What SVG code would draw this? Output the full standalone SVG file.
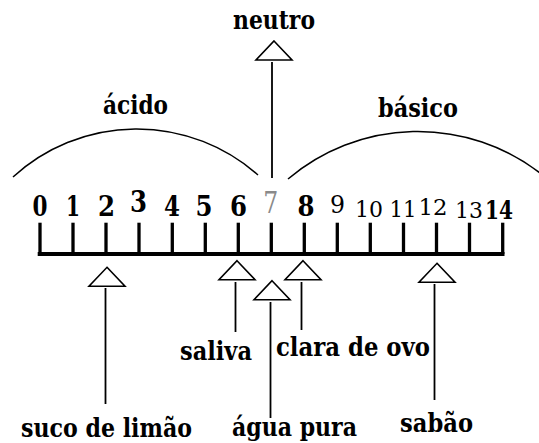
<svg xmlns="http://www.w3.org/2000/svg" width="539" height="443" viewBox="0 0 539 443" font-family="'DejaVu Serif', serif">
<style>
text{font-family:'DejaVu Serif',serif}
.lbl{font-weight:bold;font-size:26px;fill:#000}
.num{font-weight:bold;font-size:27px;fill:#000;text-anchor:middle}
.thin{font-weight:normal}
.ln{stroke:#000;stroke-width:1.8;fill:none}
.tri{stroke:#000;stroke-width:1.6;fill:#fff;stroke-linejoin:miter}
.arc{stroke:#000;stroke-width:1.5;fill:none}
.tick{stroke:#000;stroke-width:3.3}
</style>
<defs>
<path id="tri" class="tri" d="M0,0 L18,19 L-18,19 Z"/>
</defs>
<rect width="539" height="443" fill="#fff"/>

<g id="arcs">
<path class="arc" d="M13,177 A183,183 0 0 1 258,175"/>
<path class="arc" d="M288,179 A200.6,200.6 0 0 1 540,173"/>
</g>

<g id="scale">
<line x1="37.7" y1="254" x2="504.5" y2="254" stroke="#000" stroke-width="4.2"/>
<line class="tick" x1="40" y1="222.7" x2="40" y2="254"/>
<line class="tick" x1="73" y1="222.7" x2="73" y2="254"/>
<line class="tick" x1="106" y1="222.7" x2="106" y2="254"/>
<line class="tick" x1="139" y1="222.7" x2="139" y2="254"/>
<line class="tick" x1="172.3" y1="222.7" x2="172.3" y2="254"/>
<line class="tick" x1="205.3" y1="222.7" x2="205.3" y2="254"/>
<line class="tick" x1="238.3" y1="222.7" x2="238.3" y2="254"/>
<line class="tick" x1="271.3" y1="222.7" x2="271.3" y2="254"/>
<line class="tick" x1="304.3" y1="222.7" x2="304.3" y2="254"/>
<line class="tick" x1="337.3" y1="222.7" x2="337.3" y2="254"/>
<line class="tick" x1="370.3" y1="222.7" x2="370.3" y2="254"/>
<line class="tick" x1="403.5" y1="222.7" x2="403.5" y2="254"/>
<line class="tick" x1="436.5" y1="222.7" x2="436.5" y2="254"/>
<line class="tick" x1="469.5" y1="222.7" x2="469.5" y2="254"/>
<line class="tick" x1="502.7" y1="222.7" x2="502.7" y2="254"/>
<text class="num" x="40" y="215.5" textLength="15" lengthAdjust="spacingAndGlyphs">0</text>
<text class="num" x="73" y="215.5" textLength="14" lengthAdjust="spacingAndGlyphs">1</text>
<text class="num" x="106.5" y="215.5" textLength="17" lengthAdjust="spacingAndGlyphs">2</text>
<text class="num" x="138.5" y="212" style="font-size:30px" textLength="17" lengthAdjust="spacingAndGlyphs">3</text>
<text class="num" x="172" y="215.5" textLength="16" lengthAdjust="spacingAndGlyphs">4</text>
<text class="num" x="204" y="215.5" textLength="17" lengthAdjust="spacingAndGlyphs">5</text>
<text class="num" x="238.5" y="215.5" textLength="17" lengthAdjust="spacingAndGlyphs">6</text>
<text class="num thin" x="270.7" y="212.5" style="fill:#8a8a8a;font-size:30px" textLength="15" lengthAdjust="spacingAndGlyphs">7</text>
<text class="num" x="306" y="215.5" textLength="17" lengthAdjust="spacingAndGlyphs">8</text>
<text class="num thin" x="337.5" y="212.5" style="font-size:25px" textLength="15" lengthAdjust="spacingAndGlyphs">9</text>
<text class="num thin" x="369" y="216.5" style="font-size:22px" textLength="28" lengthAdjust="spacingAndGlyphs">10</text>
<text class="num thin" x="403" y="216.5" style="font-size:22px" textLength="27" lengthAdjust="spacingAndGlyphs">11</text>
<text class="num thin" x="433" y="215" style="font-size:23px" textLength="29" lengthAdjust="spacingAndGlyphs">12</text>
<text class="num thin" x="469" y="218" style="font-size:22px" textLength="28" lengthAdjust="spacingAndGlyphs">13</text>
<text class="num" x="499" y="218.5" style="font-size:26px" textLength="28" lengthAdjust="spacingAndGlyphs">14</text>
</g>

<g id="connectors">
<use href="#tri" x="274" y="41"/>
<line class="ln" x1="272" y1="62" x2="272" y2="178"/>
<use href="#tri" x="107" y="267.3"/>
<line class="ln" x1="105.5" y1="288" x2="105.5" y2="404"/>
<use href="#tri" x="237" y="260.7"/>
<line class="ln" x1="235.5" y1="282" x2="235.5" y2="332"/>
<use href="#tri" x="272" y="280.7"/>
<line class="ln" x1="270.5" y1="302" x2="270.5" y2="418"/>
<use href="#tri" x="303" y="260.7"/>
<line class="ln" x1="301.5" y1="282" x2="301.5" y2="330"/>
<use href="#tri" x="437" y="263.3"/>
<line class="ln" x1="434.5" y1="284" x2="434.5" y2="400"/>
</g>

<g id="neutro"><text class="lbl" x="233" y="29" textLength="82" lengthAdjust="spacingAndGlyphs">neutro</text></g>
<g id="acido"><text class="lbl" x="103" y="114" textLength="65" lengthAdjust="spacingAndGlyphs">ácido</text></g>
<g id="basico"><text class="lbl" x="378" y="117" textLength="80" lengthAdjust="spacingAndGlyphs">básico</text></g>
<g id="saliva"><text class="lbl" x="180" y="360" textLength="72" lengthAdjust="spacingAndGlyphs">saliva</text></g>
<g id="clara"><text class="lbl" x="276" y="356" textLength="154" lengthAdjust="spacingAndGlyphs">clara de ovo</text></g>
<g id="suco"><text class="lbl" x="21" y="437" textLength="171" lengthAdjust="spacingAndGlyphs">suco de limão</text></g>
<g id="agua"><text class="lbl" x="232" y="436" textLength="125" lengthAdjust="spacingAndGlyphs">água pura</text></g>
<g id="sabao"><text class="lbl" x="400" y="432" textLength="73" lengthAdjust="spacingAndGlyphs">sabão</text></g>
</svg>
